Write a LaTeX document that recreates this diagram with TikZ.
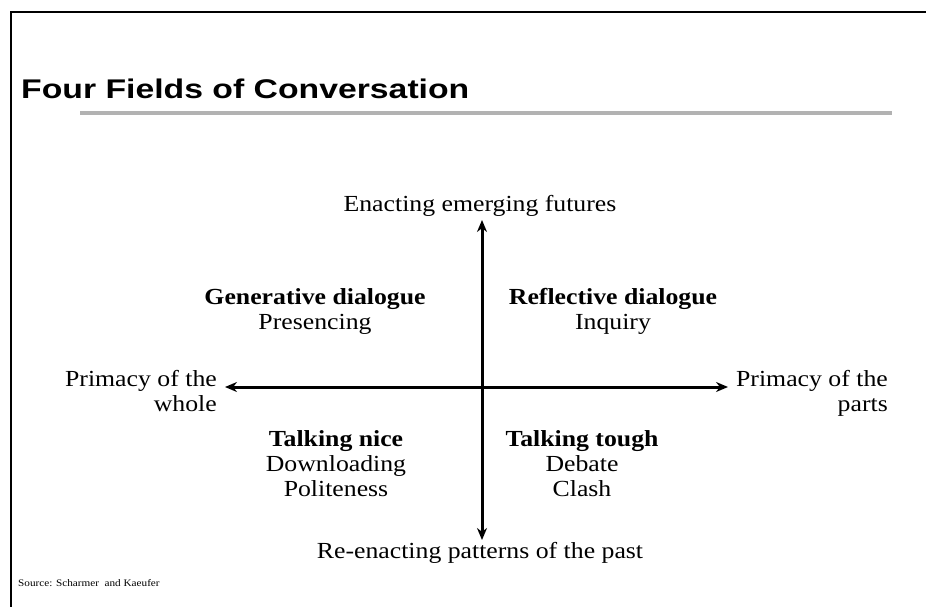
\documentclass[tikz,border=0pt]{standalone}
\usepackage{fontspec}
\setmainfont{Liberation Serif}[FakeStretch=1.12]
\newfontfamily\titlefont{Liberation Sans}[FakeStretch=1.25]
\usepackage{tikz}
\usetikzlibrary{arrows.meta,positioning}

\begin{document}
\begin{tikzpicture}[x=1pt, y=1pt, node distance=25pt, >={Stealth[length=12pt,width=10pt]}]
    % Define styles
    \tikzstyle{txt} = [inner sep=0pt, text height=16pt, text depth=5pt, font=\fontsize{23}{25}\selectfont]
    \tikzstyle{head} = [txt, font=\fontsize{23}{25}\selectfont\bfseries]
    \tikzstyle{axis} = [<->, line width=3pt]

    \useasboundingbox (0,0) rectangle (926,-607);

    % Frame and title
    \draw[line width=2pt] (11,-607) -- (11,-12) -- (926,-12);
    \node[anchor=base west, inner sep=0pt, font=\titlefont\bfseries\fontsize{27}{30}\selectfont] (title) at (21,-99) {Four Fields of Conversation};
    \draw[line width=3.5pt, gray!60] (80,-113) -- (892,-113);

    % Nodes
    \node[txt, anchor=base] (future) at (480,-211) {Enacting emerging futures};
    \node[txt, anchor=base] (past) at (480,-558) {Re-enacting patterns of the past};
    \node[txt, anchor=base east] (whole_a) at (217,-386) {Primacy of the};
    \node[txt, anchor=base east] (whole_b) at (217,-411) {whole};
    \node[txt, anchor=base east] (parts_a) at (888,-386) {Primacy of the};
    \node[txt, anchor=base east] (parts_b) at (888,-411) {parts};

    \node[head, anchor=base] (generative) at (315,-304) {Generative dialogue};
    \node[txt, below of=generative] (presencing) {Presencing};
    \node[head, anchor=base] (reflective) at (613,-304) {Reflective dialogue};
    \node[txt, below of=reflective] (inquiry) {Inquiry};
    \node[head, anchor=base] (nice) at (336,-446) {Talking nice};
    \node[txt, below of=nice] (downloading) {Downloading};
    \node[txt, below of=downloading] (politeness) {Politeness};
    \node[head, anchor=base] (tough) at (582,-446) {Talking tough};
    \node[txt, below of=tough] (debate) {Debate};
    \node[txt, below of=debate] (clash) {Clash};

    \node[anchor=base west, inner sep=0pt, font=\fontsize{10}{12}\selectfont] (source) at (18,-586) {Source: Scharmer~ and Kaeufer};

    % Connections
    \coordinate (up_tip) at (482,-220);
    \coordinate (down_tip) at (482,-540);
    \coordinate (left_tip) at (225,-387);
    \coordinate (right_tip) at (728,-387);
    \draw[axis] (down_tip) -- (up_tip);
    \draw[axis] (left_tip) -- (right_tip);
\end{tikzpicture}
\end{document}
